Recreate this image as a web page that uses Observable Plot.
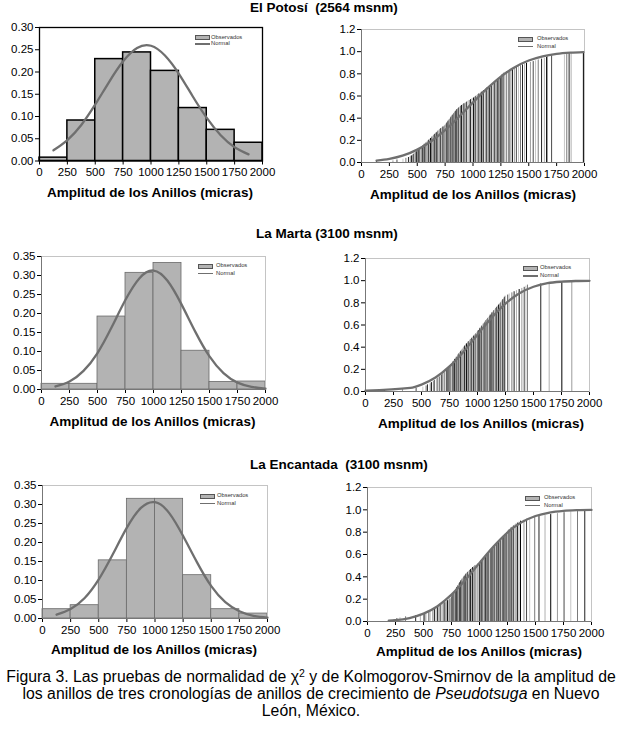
<!DOCTYPE html>
<html>
<head>
<meta charset="utf-8">
<script src="https://cdn.jsdelivr.net/npm/d3@7"></script>
<script src="https://cdn.jsdelivr.net/npm/@observablehq/plot@0.6"></script>
<style>
  body { margin: 0; background: #fff; font-family: "Liberation Sans", Arial, sans-serif; }
  #fig { position: relative; width: 622px; height: 743px; overflow: hidden; background: #fff; }
  .panel { position: absolute; }
  .panel svg { overflow: visible; }
  .sec { position: absolute; font-weight: bold; font-size: 13.5px; white-space: pre; line-height: 1; transform: translateY(-50%); }
  .axt { position: absolute; font-weight: bold; font-size: 13.5px; white-space: pre; line-height: 1; transform: translate(-50%, -50%); }
  .leg { position: absolute; font-size: 5.8px; color: #333; line-height: 1; white-space: pre; transform: translateY(-50%); }
  .sw { position: absolute; background: #b3b3b3; border: 0.8px solid #555; box-sizing: border-box; }
  .ln { position: absolute; height: 1.6px; background: #6f6f6f; }
  #cap { position: absolute; left: 0; width: 622px; text-align: center; font-size: 15.8px; line-height: 17px; }
  #cap sup { font-size: 10.5px; vertical-align: 5px; line-height: 0; }
</style>
</head>
<body>
<div id="fig"></div>
<script>
// ---------------- data ----------------
const binEdges = [0, 250, 500, 750, 1000, 1250, 1500, 1750, 2000];
const xTicks = [0, 250, 500, 750, 1000, 1250, 1500, 1750, 2000];
const yTicksHist30 = [0, 0.05, 0.10, 0.15, 0.20, 0.25, 0.30];
const yTicksHist35 = [0, 0.05, 0.10, 0.15, 0.20, 0.25, 0.30, 0.35];
const yTicksCdf = [0, 0.2, 0.4, 0.6, 0.8, 1.0, 1.2];

// observed relative frequencies per 250-micra class
const potosiFreq    = [0.0075, 0.091, 0.229, 0.244, 0.2025, 0.119, 0.070, 0.041];
const martaFreq     = [0.015, 0.015, 0.192, 0.307, 0.333, 0.102, 0.020, 0.021];
const encantadaFreq = [0.0245, 0.035, 0.153, 0.315, 0.315, 0.114, 0.0245, 0.013];

// expected (normal) frequency curves
const normX = [125, 250, 375, 500, 625, 750, 875, 1000, 1125, 1250, 1375, 1500, 1625, 1750, 1875, 2000];
const potosiNormal    = [0.024, 0.047, 0.081, 0.127, 0.178, 0.224, 0.254, 0.259, 0.237, 0.196, 0.145, 0.097, 0.058, 0.031, 0.015];
const martaNormal     = [0.008, 0.021, 0.049, 0.096, 0.163, 0.236, 0.293, 0.313, 0.286, 0.224, 0.151, 0.087, 0.043, 0.018, 0.007, 0.002];
const encantadaNormal = [0.010, 0.025, 0.054, 0.103, 0.169, 0.239, 0.291, 0.306, 0.278, 0.217, 0.147, 0.085, 0.043, 0.019, 0.007, 0.002];

// normal cumulative curves
const potosiCdfX = [135, 250, 375, 500, 625, 750, 875, 1000, 1125, 1250, 1375, 1500, 1625, 1750, 1875, 1990];
const potosiCdf  = [0.016, 0.032, 0.064, 0.116, 0.192, 0.292, 0.413, 0.542, 0.666, 0.775, 0.860, 0.920, 0.958, 0.980, 0.991, 0.996];
const martaCdfX = [0, 400, 500, 625, 750, 875, 1000, 1125, 1250, 1375, 1500, 1625, 1750, 1875, 2000];
const martaCdf  = [0.008, 0.032, 0.062, 0.126, 0.226, 0.359, 0.513, 0.664, 0.793, 0.886, 0.945, 0.977, 0.991, 0.997, 0.999];
const encantadaCdfX = [190, 250, 375, 500, 625, 750, 875, 1000, 1125, 1250, 1375, 1500, 1625, 1750, 1875, 2000];
const encantadaCdf  = [0.008, 0.012, 0.031, 0.070, 0.137, 0.240, 0.373, 0.525, 0.672, 0.797, 0.888, 0.945, 0.976, 0.991, 0.997, 0.999];

// ring widths (micras) estimated from the observed K-S bars
const potosiObs = [135,
  282, 318, 372, 398, 421, 436, 447, 458, 466, 474, 483, 494,
  503, 509, 518, 524, 533, 541, 549, 556, 563, 572, 580, 587, 596, 603, 611, 619, 627, 633, 641, 648,
  656, 662, 671, 679, 686, 694, 703, 711, 722, 731, 742,
  751, 756, 761, 767, 772, 777, 783, 788, 793, 799, 804, 809, 815, 820, 826, 831, 837, 843, 849, 856,
  863, 871, 879, 888, 897, 908, 919, 931, 942, 953, 966, 978, 991,
  1004, 1013, 1024, 1033, 1044, 1053, 1066, 1075, 1086, 1094, 1107, 1116, 1124, 1137, 1146, 1158, 1166,
  1177, 1188, 1196, 1207, 1218, 1226, 1233, 1239, 1243, 1248,
  1254, 1261, 1268, 1277, 1288, 1302, 1323, 1338, 1353, 1371, 1389, 1408, 1426, 1444, 1463, 1480,
  1515, 1540, 1561, 1585, 1615, 1640, 1660, 1668, 1705,
  1820, 1841, 1862, 1880, 1990];
const martaObs = [170, 330, 452,
  512, 541, 553, 577, 588, 606, 614, 633, 641, 659, 665, 682, 688, 703, 711, 724, 729, 741, 747,
  753, 763, 768, 779, 783, 792, 797, 806, 811, 821, 825, 834, 839, 848, 854, 864, 869, 879, 885, 896,
  901, 913, 918, 929, 936, 948, 954, 966, 972, 985, 992,
  1002, 1007, 1017, 1022, 1032, 1037, 1047, 1052, 1062, 1067, 1077, 1082, 1092, 1098, 1108, 1114, 1124,
  1130, 1140, 1146, 1156, 1162, 1172, 1178, 1188, 1195, 1205, 1211, 1221, 1227, 1236, 1240, 1246,
  1270, 1283, 1307, 1327, 1348, 1372, 1396, 1417, 1432, 1446,
  1565, 1640, 1753, 1842];
const encantadaObs = [205, 238, 262, 290, 340, 430, 472,
  505, 521, 548, 561, 584, 599, 613, 627, 641, 654, 669, 681, 691, 706, 715, 727, 737, 746,
  752, 756, 761, 765, 771, 775, 779, 784, 789, 793, 798, 803, 808, 813, 818, 823, 829, 834, 840, 846,
  852, 858, 865, 872, 879, 886, 894, 902, 911, 920, 929, 939, 949, 960, 972, 986,
  1001, 1009, 1016, 1024, 1031, 1039, 1046, 1054, 1061, 1069, 1076, 1083, 1091, 1098, 1106, 1113, 1121,
  1128, 1136, 1143, 1151, 1158, 1166, 1173, 1181, 1189, 1197, 1205, 1213, 1221, 1229, 1236, 1242, 1248,
  1256, 1265, 1274, 1283, 1293, 1303, 1314, 1326, 1339, 1352, 1366, 1397, 1420, 1448,
  1493, 1531, 1585, 1636, 1696, 1755, 1815, 1875, 1940];

// ---------------- helpers ----------------
const FONT = '"Liberation Sans", Arial, sans-serif';
const ML = 45, MR = 12, MT = 8, MB = 28;
const fig = document.getElementById("fig");
const shades = ["#000000", "#9c9c9c", "#4a4a4a", "#c6c6c6", "#7a7a7a", "#222222", "#b0b0b0"];

function place(svg, f) {
  const d = document.createElement("div");
  d.className = "panel";
  d.style.left = (f.x0 - ML) + "px";
  d.style.top = (f.y0 - MT) + "px";
  d.appendChild(svg);
  fig.appendChild(d);
}
function baseOpts(f) {
  return {
    width: (f.x1 - f.x0) + ML + MR,
    height: (f.y1 - f.y0) + MT + MB,
    marginLeft: ML, marginRight: MR, marginTop: MT, marginBottom: MB,
    style: { fontSize: "11.5px", fontFamily: FONT, color: "#000", background: "transparent", overflow: "visible" },
    x: { domain: [0, 2000], ticks: xTicks, tickFormat: d => String(d), tickSize: 4, tickPadding: 3, label: null }
  };
}
function histPlot(f, freq, normal, yMax, yTicks, heavy) {
  const bins = freq.map((v, i) => ({ x1: binEdges[i], x2: binEdges[i + 1], y1: 0, y2: v }));
  const curve = normal.map((v, i) => ({ x: normX[i], y: v }));
  const o = baseOpts(f);
  o.y = { domain: [0, yMax], ticks: yTicks, tickFormat: d3.format(".2f"), tickSize: 4, tickPadding: 2, label: null };
  o.marks = [
    Plot.rect(bins, { x1: "x1", x2: "x2", y1: "y1", y2: "y2", inset: 0,
      fill: "#b3b3b3", stroke: heavy ? "#000" : "#6a6a6a", strokeWidth: heavy ? 1.5 : 0.8 }),
    Plot.frame({ stroke: heavy ? "#000" : "#c4c4c4", strokeWidth: heavy ? 1.3 : 1 }),
    heavy ? null : Plot.ruleX([0], { stroke: "#777" }),
    heavy ? null : Plot.ruleY([0], { stroke: "#777" }),
    Plot.line(curve, { x: "x", y: "y", stroke: "#6f6f6f", strokeWidth: 2.3, curve: "natural" })
  ];
  return Plot.plot(o);
}
function cdfPlot(f, obs, cx, cy) {
  const sorted = obs.slice().sort((a, b) => a - b);
  const n = sorted.length;
  const ecdf = sorted.map((v, i) => ({ x: v, p: (i + 1) / n }));
  const curve = cx.map((v, i) => ({ x: v, y: cy[i] }));
  const o = baseOpts(f);
  o.y = { domain: [0, 1.2], ticks: yTicksCdf, tickFormat: d3.format(".1f"), tickSize: 4, tickPadding: 2, label: null };
  o.color = { type: "identity" };
  o.marks = [
    Plot.frame({ stroke: "#c4c4c4" }),
    Plot.ruleX(ecdf, { x: "x", y1: 0, y2: "p", stroke: (d, i) => shades[i % shades.length], strokeWidth: 1 }),
    Plot.ruleX([0], { stroke: "#777" }),
    Plot.ruleY([0], { stroke: "#777" }),
    Plot.line(curve, { x: "x", y: "y", stroke: "#6f6f6f", strokeWidth: 2.3, curve: "monotone-x" })
  ];
  return Plot.plot(o);
}
function text(cls, str, x, y) {
  const d = document.createElement("div");
  d.className = cls;
  d.textContent = str;
  d.style.left = x + "px";
  d.style.top = y + "px";
  fig.appendChild(d);
}
function legend(x, yBox, yLine, tx) {
  const s = document.createElement("div");
  s.className = "sw";
  s.style.left = x + "px"; s.style.top = (yBox - 2.5) + "px"; s.style.width = "15px"; s.style.height = "5px";
  fig.appendChild(s);
  const l = document.createElement("div");
  l.className = "ln";
  l.style.left = x + "px"; l.style.top = (yLine - 0.8) + "px"; l.style.width = "15px";
  fig.appendChild(l);
  text("leg", "Observados", tx, yBox);
  text("leg", "Normal", tx, yLine);
}

// ---------------- layout ----------------
const F = {
  A: { x0: 39, x1: 262, y0: 27, y1: 160.5 },
  B: { x0: 361, x1: 584, y0: 29, y1: 162 },
  C: { x0: 41, x1: 265, y0: 256, y1: 389 },
  D: { x0: 365, x1: 589, y0: 258, y1: 391 },
  E: { x0: 42, x1: 267, y0: 485, y1: 618 },
  G: { x0: 367, x1: 591, y0: 487, y1: 621 }
};

place(histPlot(F.A, potosiFreq, potosiNormal, 0.30, yTicksHist30, true), F.A);
place(cdfPlot(F.B, potosiObs, potosiCdfX, potosiCdf), F.B);
place(histPlot(F.C, martaFreq, martaNormal, 0.35, yTicksHist35, false), F.C);
place(cdfPlot(F.D, martaObs, martaCdfX, martaCdf), F.D);
place(histPlot(F.E, encantadaFreq, encantadaNormal, 0.35, yTicksHist35, false), F.E);
place(cdfPlot(F.G, encantadaObs, encantadaCdfX, encantadaCdf), F.G);

const axTitle = "Amplitud de los Anillos (micras)";
text("axt", axTitle, 150, 193);
text("axt", axTitle, 473, 195);
text("axt", axTitle, 152.5, 422);
text("axt", axTitle, 481, 424);
text("axt", axTitle, 154, 650);
text("axt", axTitle, 479, 652);

text("sec", "El Potosí  (2564 msnm)", 250, 7.5);
text("sec", "La Marta (3100 msnm)", 256, 234);
text("sec", "La Encantada  (3100 msnm)", 250, 465);

legend(195, 37.5, 44, 211);
legend(518, 39, 46.5, 537);
legend(198, 266, 273.5, 216);
legend(523, 268, 276, 540);
legend(200, 496, 503.5, 217);
legend(525, 498, 505.5, 544);

const cap = document.createElement("div");
cap.id = "cap";
cap.style.top = "668px";
cap.innerHTML = "Figura 3. Las pruebas de normalidad de &chi;<sup>2</sup> y de Kolmogorov-Smirnov de la amplitud de<br>" +
  "los anillos de tres cronologías de anillos de crecimiento de <i>Pseudotsuga</i> en Nuevo<br>León, México.";
fig.appendChild(cap);
</script>
</body>
</html>
